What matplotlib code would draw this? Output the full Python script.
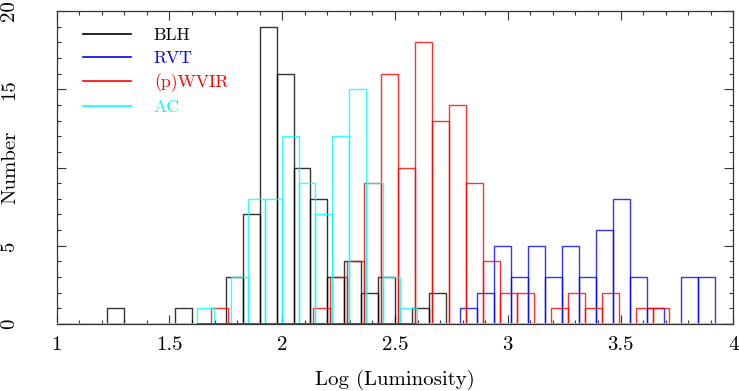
import numpy as np
import matplotlib
matplotlib.use("Agg")
import matplotlib.pyplot as plt
from matplotlib.ticker import MultipleLocator, FixedLocator, FixedFormatter
from matplotlib.lines import Line2D

plt.rcParams['font.family'] = ['cmr10', 'DejaVu Serif']
plt.rcParams['axes.formatter.use_mathtext'] = True

# ---- data (counts per bin, bin start, common bin width) ----
bin_width = 0.0753

blh_start = 1.2217
blh_counts = [1, 0, 0, 0, 1, 0, 0, 3, 7, 19, 16, 10, 8, 3, 4, 2, 3, 0, 1, 2]

rvt_start = 2.7885
rvt_counts = [1, 2, 5, 3, 5, 3, 5, 3, 6, 8, 3, 1, 0, 3, 3]

wvir_start = 1.684
wvir_counts = [1, 0, 0, 0, 0, 0, 1, 3, 4, 9, 16, 10, 18, 13, 14, 9, 4, 2, 2, 0,
               1, 2, 1, 2, 0, 1, 1]

ac_start = 1.6204
ac_counts = [1, 0, 3, 8, 8, 12, 9, 7, 12, 15, 9, 3, 1]

series_labels = ["BLH", "RVT", "(p)WVIR", "AC"]
series_colors = ["black", "#0000ff", "#ff0000", "#00ffff"]

x_ticks = [1, 1.5, 2, 2.5, 3, 3.5, 4]
x_ticklabels = ["1", "1.5", "2", "2.5", "3", "3.5", "4"]
y_ticks = [0, 5, 10, 15, 20]
y_ticklabels = ["0", "5", "", "15", "20"]  # "10" hidden behind the axis title

# ---- figure ----
W, H = 739, 391
fig = plt.figure(figsize=(W / 100, H / 100), dpi=100)
ax = fig.add_axes([56.7 / W, 1 - 324 / H, (733.3 - 56.7) / W, (324 - 11) / H])

data = [(blh_start, blh_counts), (rvt_start, rvt_counts),
        (wvir_start, wvir_counts), (ac_start, ac_counts)]

for (start, counts), col in zip(data, series_colors):
    counts = np.asarray(counts)
    lefts = start + bin_width * np.arange(len(counts))
    keep = counts > 0
    ax.bar(lefts[keep], counts[keep], width=bin_width, align="edge",
           fill=False, edgecolor=col, linewidth=1.0, alpha=0.8, zorder=2)

# baseline
ax.axhline(0, color="#00ffff", lw=1.2, zorder=3)
ac_end = ac_start + bin_width * len(ac_counts)
ax.hlines(0, ac_start, ac_end, color="#5b20c8", lw=1.2, zorder=3.1)

ax.set_xlim(1, 4)
ax.set_ylim(0, 20)

ax.xaxis.set_major_locator(FixedLocator(x_ticks))
ax.xaxis.set_major_formatter(FixedFormatter(x_ticklabels))
ax.xaxis.set_minor_locator(MultipleLocator(0.1))
ax.yaxis.set_major_locator(FixedLocator(y_ticks))
ax.yaxis.set_major_formatter(FixedFormatter(y_ticklabels))
ax.yaxis.set_minor_locator(MultipleLocator(1))

ax.tick_params(which="both", direction="in", top=True, right=True,
               color="#333333", width=0.8)
ax.tick_params(which="major", length=6.5)
ax.tick_params(which="minor", length=3.2)
ax.tick_params(axis="x", which="major", labelsize=15, pad=9)
ax.tick_params(axis="y", which="major", labelsize=15, pad=34)
for lab in ax.get_yticklabels():
    lab.set_rotation(90)
    lab.set_va("center")
    lab.set_ha("center")

for s in ax.spines.values():
    s.set_color("#333333")
    s.set_linewidth(0.9)

ax.set_xlabel("Log (Luminosity)", fontsize=15)
ax.xaxis.set_label_coords(0.5, -(380 - 324) / 313, transform=ax.transAxes)
ax.xaxis.label.set_va("center")
ax.set_ylabel("Number", fontsize=15)
ax.yaxis.set_label_coords(-(56.7 - 10) / 676.6, 0.5, transform=ax.transAxes)
ax.yaxis.label.set_va("center")

handles = [Line2D([], [], color=c, lw=1.2) for c in series_colors]
leg = ax.legend(handles, series_labels, loc="upper left",
                bbox_to_anchor=(26.6 / 676.6, 1 - 17 / 313),
                frameon=False, fontsize=12.7, handlelength=2.7,
                handletextpad=1.3, labelspacing=0.42, borderpad=0,
                borderaxespad=0)
for t, c in zip(leg.get_texts(), series_colors):
    t.set_color(c)

fig.savefig("out.png", dpi=100)
